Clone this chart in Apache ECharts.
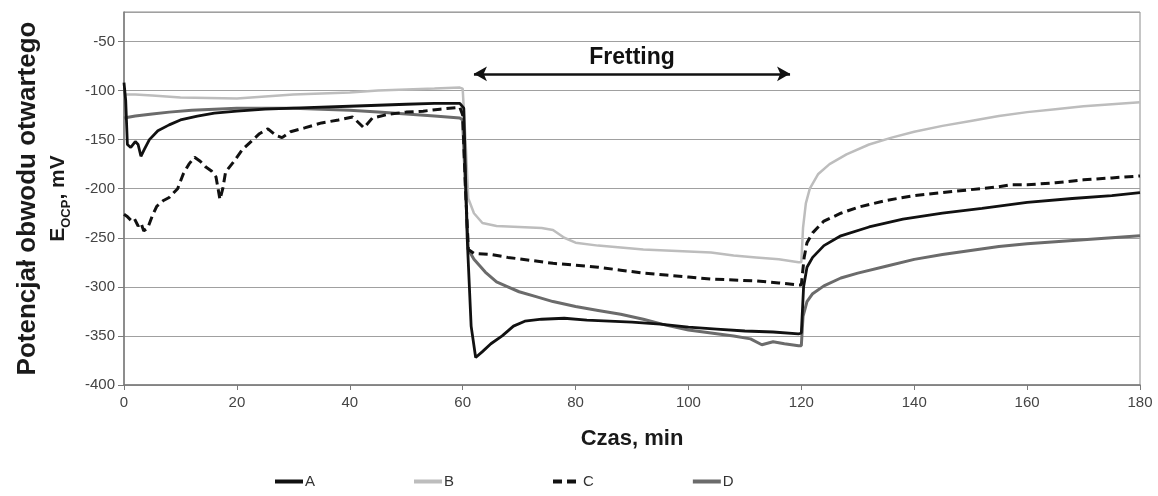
<!DOCTYPE html>
<html>
<head>
<meta charset="utf-8">
<script src="https://cdn.jsdelivr.net/npm/echarts@6/dist/echarts.min.js"></script>
<style>html,body{margin:0;padding:0;background:#fff;}#c{width:1158px;height:496px;}</style>
</head>
<body>
<div id="c"></div>
<script>
// ---- data (time in min, potential in mV) ----
const seriesNames = ['A', 'B', 'C', 'D'];
const xTicks = [0, 20, 40, 60, 80, 100, 120, 140, 160, 180];
const yTicks = [-400, -350, -300, -250, -200, -150, -100, -50];

const tA = [0, 0.3, 0.6, 1.2, 2, 2.5, 3, 3.6, 4.5, 6, 8, 10, 13, 16, 20, 25, 30, 35, 40, 45, 50, 55, 59.5,
  60.2, 60.8, 61.5, 62.3, 63.5, 65, 67, 69, 71, 74, 78, 82, 86, 90, 95, 100, 105, 110, 115, 119.5,
  120, 120.4, 121, 122, 124, 127, 132, 138, 145, 152, 160, 168, 175, 180];
const vA = [-92, -110, -155, -158, -152, -155, -167, -160, -150, -141, -135, -130, -126, -123, -121, -119, -118, -117, -116, -115, -114, -113, -113,
  -118, -250, -340, -372, -366, -358, -350, -340, -335, -333, -332, -334, -335, -336, -338, -341, -343, -345, -346, -348,
  -347, -300, -280, -270, -258, -248, -239, -231, -225, -220, -214, -210, -207, -204];

const tB = [0, 2, 5, 10, 15, 20, 25, 30, 35, 40, 45, 50, 55, 59.5,
  60, 60.5, 61, 62, 63.5, 66, 70, 74, 76, 78, 80, 84, 88, 92, 96, 100, 104, 108, 112, 116, 119.5,
  120, 120.3, 120.8, 121.5, 123, 125, 128, 132, 136, 140, 145, 150, 155, 160, 165, 170, 175, 180];
const vB = [-104, -104, -105, -107, -107.5, -108, -106, -104, -103, -102, -100, -99, -98, -97,
  -98, -150, -210, -225, -235, -238, -239, -240, -242, -250, -255, -258, -260, -262, -263, -264, -265, -268, -270, -272, -275,
  -275, -240, -215, -200, -185, -175, -165, -155, -148, -142, -136, -131, -126, -122, -119, -116, -114, -112];

const tC = [0, 0.5, 1.2, 1.8, 2.5, 3, 3.5, 4.2, 5, 5.8, 7, 8, 9.5, 10.5, 11.5, 12.5, 13.5, 14.5, 15.5, 16.3, 17, 17.5, 18, 19.5,
  21, 22.5, 24, 25.5, 27, 28, 29.5, 32, 35, 38, 40.5, 42.5, 44, 47, 50, 53, 56, 59.5,
  60, 60.5, 61, 62, 65, 68, 72, 76, 80, 84, 88, 92, 96, 100, 104, 108, 112, 116, 119.5,
  120, 120.5, 121, 122, 124, 127, 130, 135, 140, 145, 150, 155, 157, 160, 165, 170, 175, 180];
const vC = [-226, -228, -232, -230, -238, -235, -243, -240, -228, -218, -212, -209, -200, -185, -175, -168, -172, -178, -182, -188, -211, -200, -183, -172,
  -160, -152, -144, -139, -146, -148, -142, -138, -133, -130, -127, -138, -128, -124, -122, -121, -119, -117,
  -125, -200, -262, -266, -267, -270, -273, -276, -278, -280, -283, -286, -288, -290, -292, -293, -294, -296, -298,
  -298, -270, -255, -245, -233, -225, -219, -212, -207, -204, -201, -198, -196, -196, -194, -191, -189, -187];

const tD = [0, 2, 5, 8, 12, 16, 20, 25, 30, 35, 40, 45, 50, 55, 59.5,
  60, 60.5, 61, 62, 64, 66, 68, 70, 73, 76, 80, 84, 88, 92, 96, 100, 104, 108, 111, 113, 115, 117, 119.5,
  120, 120.3, 121, 122, 124, 127, 130, 135, 140, 145, 150, 155, 160, 165, 170, 175, 180];
const vD = [-128, -126, -124, -122, -120, -119, -118, -118, -118, -119, -120, -122, -124, -126, -128,
  -130, -200, -262, -272, -285, -295, -300, -305, -310, -315, -320, -324, -328, -333, -339, -344, -347, -350, -353, -359, -356, -358, -360,
  -360, -330, -315, -307, -299, -291, -286, -279, -272, -267, -263, -259, -256, -254, -252, -250, -248];

// annotation
const frettingLabel = 'Fretting';
const frettingStart = [62, -83];
const frettingEnd = [118, -83];

const pairs = (t, v) => t.map((x, i) => [x, v[i]]);

const FONT = "'Liberation Sans', Arial, sans-serif";
const chart = echarts.init(document.getElementById('c'), null, {renderer: 'canvas'});

const lineBase = {type: 'line', symbol: 'none', showSymbol: false, smooth: false, animation: false, z: 3};

chart.setOption({
  animation: false,
  backgroundColor: '#ffffff',
  textStyle: {fontFamily: FONT},
  grid: {left: 124, right: 18, top: 12, bottom: 111, show: true, borderColor: '#8c8c8c', borderWidth: 1, backgroundColor: 'transparent'},
  xAxis: {
    type: 'value', min: xTicks[0], max: xTicks[xTicks.length - 1], interval: 20,
    name: 'Czas, min', nameLocation: 'middle', nameGap: 43,
    nameTextStyle: {fontFamily: FONT, fontWeight: 'bold', fontSize: 22, color: '#1a1a1a'},
    axisLine: {show: true, lineStyle: {color: '#7a7a7a', width: 1.5}},
    axisTick: {show: true, inside: false, length: 5, lineStyle: {color: '#7a7a7a'}},
    axisLabel: {fontFamily: FONT, fontSize: 15, color: '#444', margin: 10},
    splitLine: {show: false}
  },
  yAxis: {
    type: 'value', min: yTicks[0], max: -20, interval: 50,
    name: '{a|Potencjał obwodu otwartego}\n{b|E}{s|OCP}{b|, mV}',
    nameLocation: 'middle', nameGap: 55, nameRotate: 90,
    nameTextStyle: {
      fontFamily: FONT, fontWeight: 'bold', color: '#1a1a1a',
      rich: {
        a: {fontFamily: FONT, fontWeight: 'bold', fontSize: 26, color: '#1a1a1a', lineHeight: 30},
        b: {fontFamily: FONT, fontWeight: 'bold', fontSize: 21, color: '#1a1a1a', lineHeight: 26, verticalAlign: 'bottom'},
        s: {fontFamily: FONT, fontWeight: 'bold', fontSize: 13, color: '#1a1a1a', lineHeight: 26, verticalAlign: 'bottom', padding: [0, 0, -4, 0]}
      }
    },
    axisLine: {show: true, lineStyle: {color: '#7a7a7a', width: 1.5}},
    axisTick: {show: true, inside: false, length: 6, lineStyle: {color: '#7a7a7a'}},
    axisLabel: {fontFamily: FONT, fontSize: 15, color: '#444', margin: 9, showMaxLabel: false},
    splitLine: {show: true, lineStyle: {color: '#a0a0a0', width: 1.2}}
  },
  legend: {
    data: seriesNames, left: 268, bottom: 2, orient: 'horizontal',
    itemWidth: 28, itemHeight: 10, itemGap: 97,
    itemStyle: {opacity: 0},
    lineStyle: {width: 4},
    textStyle: {fontFamily: FONT, fontSize: 15, color: '#333', padding: [0, 0, 0, -3]}
  },
  series: [
    Object.assign({}, lineBase, {
      name: 'D', data: pairs(tD, vD), z: 2,
      lineStyle: {color: '#6b6b6b', width: 3}, itemStyle: {color: '#6b6b6b'}
    }),
    Object.assign({}, lineBase, {
      name: 'B', data: pairs(tB, vB),
      lineStyle: {color: '#bdbdbd', width: 2.5}, itemStyle: {color: '#bdbdbd'}
    }),
    Object.assign({}, lineBase, {
      name: 'C', data: pairs(tC, vC),
      lineStyle: {color: '#111', width: 3, type: [9, 5]}, itemStyle: {color: '#111'}
    }),
    Object.assign({}, lineBase, {
      name: 'A', data: pairs(tA, vA), z: 4,
      lineStyle: {color: '#111', width: 2.8}, itemStyle: {color: '#111'},
      markLine: {
        silent: true, animation: false, symbol: ['arrow', 'arrow'], symbolSize: [11, 13],
        lineStyle: {color: '#111', width: 2.5, type: 'solid'},
        label: {show: true, position: 'insideMiddleTop', distance: 5, formatter: frettingLabel,
          fontFamily: FONT, fontWeight: 'bold', fontSize: 23, color: '#111'},
        data: [[{coord: frettingStart}, {coord: frettingEnd}]]
      }
    })
  ]
});
</script>
</body>
</html>
